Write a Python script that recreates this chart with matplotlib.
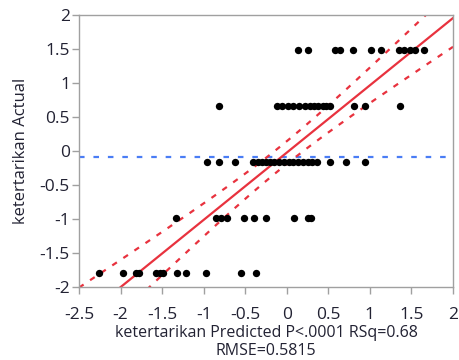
import numpy as np
import matplotlib
matplotlib.use("Agg")
import matplotlib.pyplot as plt

plt.rcParams["font.family"] = ["Open Sans", "DejaVu Sans"]

# actual response levels and predicted values
level_top = 1.48
pred_top = [0.14, 0.26, 0.58, 0.64, 0.80, 1.01, 1.13, 1.35, 1.41, 1.48, 1.54, 1.65]

level_hi = 0.66
pred_hi = [-0.82, -0.12, -0.06, 0.01, 0.08, 0.15, 0.22, 0.28, 0.33, 0.38,
           0.43, 0.47, 0.52, 0.81, 0.94, 1.36]

level_mid = -0.16
pred_mid = [-0.96, -0.82, -0.62, -0.41, -0.35, -0.30, -0.25, -0.20, -0.15,
            -0.09, -0.03, 0.03, 0.08, 0.14, 0.20, 0.26, 0.30, 0.36, 0.52,
            0.71, 0.94]

level_lo = -0.98
pred_lo = [-1.33, -0.85, -0.79, -0.72, -0.51, -0.39, -0.25, 0.09, 0.26, 0.29]

level_bot = -1.79
pred_bot = [-2.26, -1.97, -1.81, -1.78, -1.57, -1.53, -1.49, -1.32, -1.21,
            -0.97, -0.55, -0.37]

xticks = [-2.5, -2, -1.5, -1, -0.5, 0, 0.5, 1, 1.5, 2]
yticks = [-2, -1.5, -1, -0.5, 0, 0.5, 1, 1.5, 2]

x_label = "ketertarikan Predicted P<.0001 RSq=0.68\nRMSE=0.5815"
y_label = "ketertarikan Actual"

pred = np.array(pred_top + pred_hi + pred_mid + pred_lo + pred_bot)
actual = np.array([level_top] * len(pred_top) + [level_hi] * len(pred_hi)
                  + [level_mid] * len(pred_mid) + [level_lo] * len(pred_lo)
                  + [level_bot] * len(pred_bot))

# fit line and confidence curves (actual on predicted)
n = len(pred)
slope, icpt = np.polyfit(pred, actual, 1)
resid = actual - (slope * pred + icpt)
s = np.sqrt(np.sum(resid ** 2) / (n - 2))
sxx = np.sum((pred - pred.mean()) ** 2)
t_val = 2.25

xs = np.linspace(-2.5, 2.0, 200)
fit = slope * xs + icpt
half = t_val * s * np.sqrt(1.0 / n + (xs - pred.mean()) ** 2 / sxx)

fig = plt.figure(figsize=(4.6, 3.6), dpi=100)
ax = fig.add_axes((0.1717, 0.2028, 0.8131, 0.7555))

red = "#E8323E"
ax.axhline(actual.mean(), color="#4A7DF5", lw=1.6, ls=(0, (2.5, 4)), zorder=1)
ax.plot(xs, fit + half, color=red, lw=1.6, ls=(0, (2.5, 3.5)), zorder=2)
ax.plot(xs, fit - half, color=red, lw=1.6, ls=(0, (2.5, 3.5)), zorder=2)
ax.plot(xs, fit, color=red, lw=1.6, zorder=2)
ax.scatter(pred, actual, s=28, color="black", zorder=3, linewidths=0)

ax.set_xlim(-2.5, 2.0)
ax.set_ylim(-2, 2)
ax.set_xticks(xticks)
ax.set_xticklabels([f"{v:g}" for v in xticks])
ax.set_yticks(yticks)
ax.set_yticklabels([f"{v:g}" for v in yticks])

for sp in ax.spines.values():
    sp.set_color("#A0A0A0")
    sp.set_linewidth(1.0)
ax.tick_params(colors="#A0A0A0", labelcolor="#222233", labelsize=12.5,
               length=5, width=1.0, direction="out")
ax.tick_params(axis="x", pad=9.5)
ax.tick_params(axis="y", pad=1.5)

ax.set_xlabel(x_label, fontsize=11.5, color="#222233", labelpad=1,
              linespacing=1.2)
ax.set_ylabel(y_label, fontsize=12, color="#222233", labelpad=8)

fig.savefig("out.png", dpi=100)
